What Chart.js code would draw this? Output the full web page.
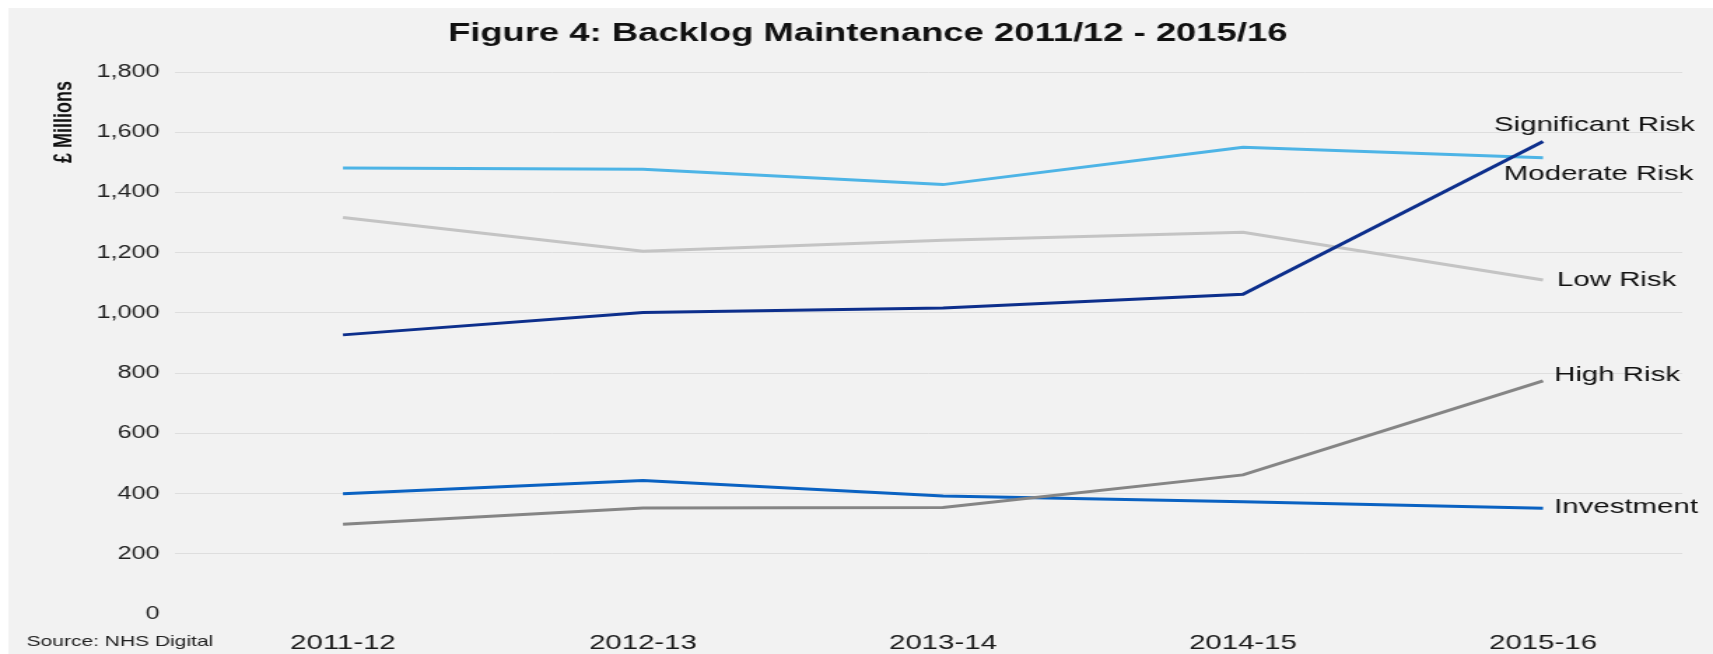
<!DOCTYPE html>
<html>
<head>
<meta charset="utf-8">
<title>Backlog Maintenance</title>
<script src="https://cdn.jsdelivr.net/npm/chart.js@4"></script>
<style>
  html, body { margin: 0; padding: 0; background: #fff; overflow: hidden; }
  /* the reference is horizontally stretched, so draw narrow and stretch */
  #wrap { width: 1224px; height: 654px; transform: scaleX(1.3995); transform-origin: 0 0; }
</style>
</head>
<body>
<div id="wrap"><canvas id="myChart"></canvas></div>
<script>
const years = ["2011-12", "2012-13", "2013-14", "2014-15", "2015-16"];
const significantRisk = [927, 1001, 1016, 1062, 1569];
const moderateRisk = [1481, 1477, 1426, 1550, 1515];
const lowRisk = [1317, 1205, 1241, 1268, 1109];
const highRisk = [298, 352, 354, 462, 774];
const investment = [399, 443, 392, 373, 351];

const chartTitle = "Figure 4: Backlog Maintenance 2011/12 - 2015/16";
const FONT = "'Liberation Sans', Arial, sans-serif";

function toPoints(values) {
  return values.map((v, i) => ({ x: i, y: v }));
}

// background, title, axis title, source and end-of-line labels
const extras = {
  id: "extras",
  beforeDraw(chart) {
    const ctx = chart.ctx;
    ctx.save();
    ctx.fillStyle = "#f2f2f2";
    ctx.fillRect(6, 8, chart.width, chart.height);
    ctx.restore();
  },
  afterDraw(chart) {
    const ctx = chart.ctx;
    ctx.save();
    ctx.fillStyle = "#111";
    ctx.textBaseline = "middle";

    ctx.textAlign = "center";
    ctx.font = "bold 26px " + FONT;
    ctx.fillText(chartTitle, 620, 34);

    ctx.font = "15px " + FONT;
    ctx.textAlign = "left";
    ctx.fillStyle = "#222";
    ctx.fillText("Source: NHS Digital", 19, 642);

    ctx.font = "21px " + FONT;
    ctx.fillStyle = "#111";
    chart.data.datasets.forEach((ds, i) => {
      const meta = chart.getDatasetMeta(i);
      const pt = meta.data[meta.data.length - 1];
      ctx.fillText(ds.label, pt.x + ds.labelDx, pt.y + ds.labelDy);
    });

    ctx.translate(46, 122);
    ctx.rotate(-Math.PI / 2);
    ctx.textAlign = "center";
    ctx.font = "bold 18px " + FONT;
    ctx.fillText("£ Millions", 0, 0);
    ctx.restore();
  }
};

const datasets = [
  { label: "Significant Risk", data: toPoints(significantRisk), borderColor: "#0d2f8c", labelDx: -35, labelDy: -16 },
  { label: "Moderate Risk", data: toPoints(moderateRisk), borderColor: "#4db4e6", labelDx: -28, labelDy: 16 },
  { label: "Low Risk", data: toPoints(lowRisk), borderColor: "#c4c4c4", labelDx: 10, labelDy: 0 },
  { label: "High Risk", data: toPoints(highRisk), borderColor: "#858585", labelDx: 8, labelDy: -6 },
  { label: "Investment", data: toPoints(investment), borderColor: "#0a62c2", labelDx: 8, labelDy: -1 }
];
datasets.forEach((ds) => {
  ds.borderWidth = 3;
  ds.pointRadius = 0;
  ds.tension = 0;
  ds.fill = false;
});

new Chart(document.getElementById("myChart"), {
  type: "line",
  data: { datasets },
  options: {
    responsive: true,
    maintainAspectRatio: false,
    animation: false,
    layout: { padding: { top: 72, right: 22, bottom: 0, left: 0 } },
    plugins: {
      legend: { display: false },
      tooltip: { enabled: false },
      title: { display: false }
    },
    scales: {
      x: {
        type: "linear",
        min: -0.56,
        max: 4.464,
        afterBuildTicks: (scale) => {
          scale.ticks = years.map((_, i) => ({ value: i }));
        },
        afterFit: (scale) => { scale.height = 40; },
        ticks: {
          autoSkip: false,
          maxRotation: 0,
          padding: 9,
          color: "#1a1a1a",
          font: { family: FONT, size: 21 },
          callback: (v) => years[v]
        },
        grid: { display: false },
        border: { display: false }
      },
      y: {
        min: 0,
        max: 1800,
        afterFit: (scale) => { scale.width = 125; },
        ticks: {
          stepSize: 200,
          padding: 11,
          color: "#222",
          font: { family: FONT, size: 18 },
          callback: (v) => v.toLocaleString("en-US")
        },
        grid: {
          drawTicks: false,
          lineWidth: 1,
          color: (c) => (c.tick && c.tick.value === 0 ? "rgba(0,0,0,0)" : "#dedede")
        },
        border: { display: false }
      }
    }
  },
  plugins: [extras]
});
</script>
</body>
</html>
